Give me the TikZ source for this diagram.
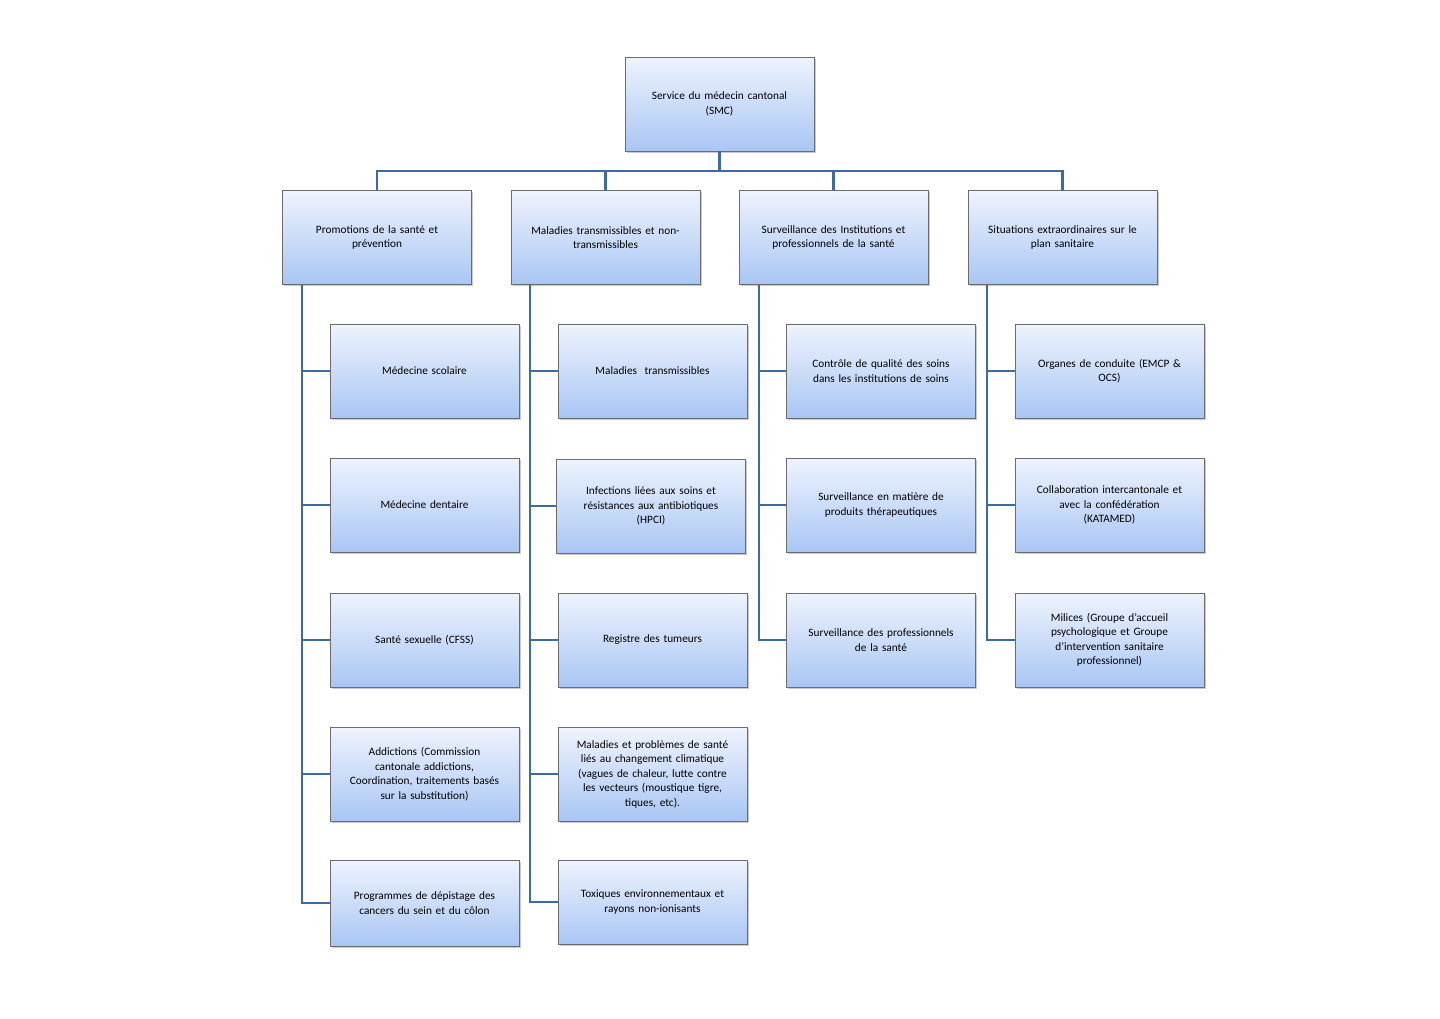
\documentclass[tikz,border=0pt]{standalone}
\usepackage{fontspec}
\setmainfont{Carlito}
\usetikzlibrary{shadows}
\definecolor{ln}{HTML}{3F6B9C}
\definecolor{tp}{HTML}{EEF3FD}
\definecolor{bt}{HTML}{A9C6F4}
\begin{document}
\begin{tikzpicture}[x=1pt,y=-1pt,
 box/.style={draw=gray!85!black,line width=0.6pt,top color=tp,bottom color=bt,minimum width=189pt,minimum height=94pt,
  text width=180pt,align=center,font=\fontsize{11.3}{14.5}\selectfont,drop shadow={shadow xshift=1.5pt,shadow yshift=-1.5pt,fill=black!35,opacity=0.6}},
 c/.style={draw=ln,line width=2.6pt}]
\useasboundingbox (0,0) rectangle (1440,1018);
\node[box] (smc) at (719.5,104) {Service du médecin cantonal\\(SMC)};
\node[box] (a) at (377,237.5) {Promotions de la santé et\\prévention};
\node[box] (b) at (605.5,237.5) {Maladies transmissibles et non-\\transmissibles};
\node[box] (c) at (833.5,237.5) {Surveillance des Institutions et\\professionnels de la santé};
\node[box] (d) at (1062.5,237.5) {Situations extraordinaires sur le\\plan sanitaire};
\node[box] (a1) at (424.5,371) {Médecine scolaire};
\node[box] (a2) at (424.5,505) {Médecine dentaire};
\node[box] (a3) at (424.5,640) {Santé sexuelle (CFSS)};
\node[box] (a4) at (424.5,774) {Addictions (Commission\\cantonale addictions,\\Coordination, traitements basés\\sur la substitution)};
\node[box,minimum height=86pt] (a5) at (424.5,903) {Programmes de dépistage des\\cancers du sein et du côlon};
\node[box] (b1) at (652.5,371) {Maladies\ \ transmissibles};
\node[box] (b2) at (651,506) {Infections liées aux soins et\\résistances aux antibiotiques\\(HPCI)};
\node[box] (b3) at (652.5,640) {Registre des tumeurs};
\node[box] (b4) at (652.5,774) {Maladies et problèmes de santé\\liés au changement climatique\\(vagues de chaleur, lutte contre\\les vecteurs (moustique tigre,\\tiques, etc).};
\node[box,minimum height=84pt] (b5) at (652.5,902) {Toxiques environnementaux et\\rayons non-ionisants};
\node[box] (c1) at (881,371) {Contrôle de qualité des soins\\dans les institutions de soins};
\node[box] (c2) at (881,505) {Surveillance en matière de\\produits thérapeutiques};
\node[box] (c3) at (881,640) {Surveillance des professionnels\\de la santé};
\node[box] (d1) at (1109.5,371) {Organes de conduite (EMCP \&\\OCS)};
\node[box] (d2) at (1109.5,505) {Collaboration intercantonale et\\avec la confédération\\(KATAMED)};
\node[box] (d3) at (1109.5,640) {Milices (Groupe d'accueil\\psychologique et Groupe\\d'intervention sanitaire\\professionnel)};
\coordinate (hb) at (0,171);
\draw[c] (smc.south) -- (smc.south |- hb);
\draw[c] (a.north) |- (hb -| d.north) -- (d.north);
\foreach \n in {b,c}{\draw[c] (\n.north) -- (\n.north |- hb);}
\foreach \p/\x/\l in {a/302/{a1,a2,a3,a4,a5},b/530/{b1,b2,b3,b4,b5},c/759/{c1,c2,c3},d/987/{d1,d2,d3}}{
 \coordinate (t\p) at (\x,0);
 \foreach \k in \l {\draw[c] (\p.south -| t\p) |- (\k.west);}
}
\end{tikzpicture}
\end{document}
